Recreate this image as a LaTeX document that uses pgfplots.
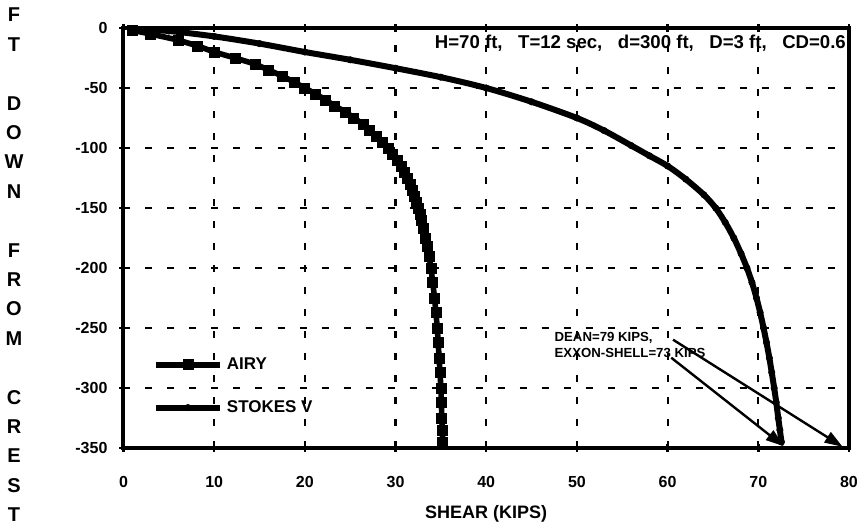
\documentclass[border=0pt]{standalone}
\usepackage{fontspec}
\setmainfont{Liberation Sans}
\usepackage{pgfplots}
\pgfplotsset{compat=1.18}
\usetikzlibrary{arrows.meta}
\begin{document}
\begin{tikzpicture}
\useasboundingbox (-61.75pt,-41pt) rectangle (369.75pt,224pt);
\begin{axis}[
  at={(0,0)}, anchor=south west, scale only axis,
  width=362.75pt, height=210pt,
  xmin=0, xmax=80, ymin=-350, ymax=0,
  xtick={0,10,...,80}, ytick={-350,-300,...,0},
  grid=major,
  major grid style={black, line width=1.1pt, dash pattern=on 3.5pt off 7.5pt},
  axis line style={line width=2pt},
  tick style={black, line width=1.2pt}, major tick length=4pt, tick align=center,
  xtick pos=both, ytick pos=left,
  every tick label/.append style={font=\bfseries\fontsize{8}{9}\selectfont},
  /pgf/number format/assume math mode=true,
  xticklabel style={anchor=center, yshift=-15pt},
  yticklabel style={anchor=east, xshift=-2.5pt},
  xlabel={SHEAR (KIPS)},
  xlabel style={font=\bfseries\fontsize{9}{10}\selectfont, at={(axis description cs:0.5,0)}, anchor=center, yshift=-33pt},
  legend style={at={(0.04,0.226)}, anchor=north west, draw=none, fill=none,
    font=\bfseries\fontsize{8.5}{9}\selectfont, row sep=10pt, inner sep=0pt},
  legend cell align=left,
  legend image code/.code={\draw[mark repeat=2,mark phase=2,#1] plot coordinates {(0pt,0pt) (16pt,0pt) (32pt,0pt)};},
  clip=false,
]
\addplot[black, line width=2.8pt, mark=square*, mark size=2.5pt, mark options={solid, line width=0.4pt}] coordinates {
(1.0,-2) (3.0,-5) (6.0,-10) (8.2,-15) (10.0,-20) (12.3,-25) (14.5,-30) (16.0,-35)
(17.5,-40) (18.8,-45) (20.0,-50) (21.2,-55) (22.3,-60) (23.3,-65) (24.5,-70)
(25.4,-75) (26.4,-80) (27.1,-85) (27.9,-90) (28.6,-95) (29.2,-100) (29.7,-105) (30.2,-110)
(30.6,-115) (31.0,-120) (31.3,-125) (31.6,-130) (31.9,-135) (32.1,-140) (32.3,-145) (32.5,-150)
(32.7,-155) (32.9,-160) (33.1,-167) (33.3,-175) (33.5,-182) (33.7,-190) (33.9,-200)
(34.1,-212) (34.3,-225) (34.45,-237) (34.6,-250) (34.7,-262) (34.8,-275) (34.9,-287)
(35.0,-300) (35.05,-312) (35.1,-325) (35.15,-335) (35.2,-345)
};
\addlegendentry{AIRY}
\addplot[black, line width=3pt, smooth, tension=0.5, mark=*, mark size=1.6pt, mark options={line width=0.3pt}] coordinates {
(1.5,-1) (5,-2.5) (10,-7) (15,-13) (20,-20) (25,-26.5) (30,-33.5) (35,-41) (40,-50)
(45,-61.5) (50,-75) (53,-85.5) (56,-98) (58,-106.5) (60,-115) (62,-126) (64,-139)
(65.3,-150) (66.35,-162) (67.3,-175) (68.1,-188) (68.75,-200) (69.3,-212) (69.8,-225)
(70.2,-237) (70.58,-250) (70.9,-262) (71.22,-275) (71.48,-287) (71.75,-300)
(71.98,-312) (72.2,-325) (72.38,-335) (72.55,-345)
};
\addlegendentry{STOKES V}
\node[anchor=east, inner sep=0pt, font=\bfseries\fontsize{9.3}{9}\selectfont] at (axis cs:79.7,-13) {H=70 ft,\ \ \ T=12 sec,\ \ \ d=300 ft,\ \ \ D=3 ft,\ \ \ CD=0.6};
\node[anchor=west, inner sep=0pt, font=\bfseries\fontsize{6.6}{7}\selectfont] at (axis cs:47.5,-258) {DEAN=79 KIPS,};
\node[anchor=west, inner sep=0pt, font=\bfseries\fontsize{6.6}{7}\selectfont] at (axis cs:47.5,-270.6) {EXXON-SHELL=73 KIPS};
\draw[-{Triangle[length=9pt,width=6pt]}, line width=1.2pt] (axis cs:60.6,-259.75) -- (axis cs:79.3,-349);
\draw[-{Triangle[length=9pt,width=6pt]}, line width=1.2pt] (axis cs:60.4,-274.75) -- (axis cs:72.8,-348.5);
\end{axis}
\begin{scope}[every node/.style={font=\bfseries\fontsize{10}{10}\selectfont, anchor=center}]
\node at (-54.75pt,216.5pt) {F};
\node at (-54.75pt,201.8pt) {T};
\node at (-54.75pt,172.4pt) {D};
\node at (-54.75pt,157.7pt) {O};
\node at (-54.75pt,143pt) {W};
\node at (-54.75pt,128.3pt) {N};
\node at (-54.75pt,98.9pt) {F};
\node at (-54.75pt,84.2pt) {R};
\node at (-54.75pt,69.5pt) {O};
\node at (-54.75pt,54.8pt) {M};
\node at (-54.75pt,25.4pt) {C};
\node at (-54.75pt,10.7pt) {R};
\node at (-54.75pt,-4pt) {E};
\node at (-54.75pt,-18.7pt) {S};
\node at (-54.75pt,-33.4pt) {T};
\end{scope}
\end{tikzpicture}
\end{document}
